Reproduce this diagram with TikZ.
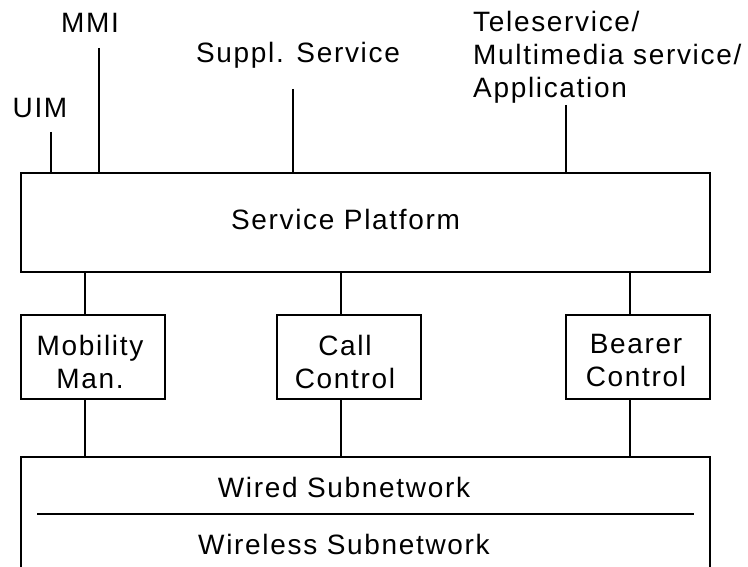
\documentclass[tikz,border=0pt]{standalone}
\usepackage{fontspec}
\setmainfont{Liberation Sans}[LetterSpace=6]
\begin{document}
\begin{tikzpicture}[x=1pt,y=-1pt,
  every node/.style={font=\fontsize{28}{33}\selectfont, inner sep=0pt},
  blk/.style={draw, line width=1.6pt},
  conn/.style={line width=1.6pt},
  lbl/.style={align=center}]
\useasboundingbox (0,0) rectangle (748,567);
\clip (0,0) rectangle (748,567);
% boxes
\node[blk, minimum width=689pt, minimum height=99pt] (sp) at (365.5,222.5) {};
\node[blk, minimum width=144pt, minimum height=84pt] (mm) at (93,357) {};
\node[blk, minimum width=144pt, minimum height=84pt] (cc) at (349,357) {};
\node[blk, minimum width=144pt, minimum height=84pt] (bc) at (638,357) {};
\node[blk, minimum width=689pt, minimum height=130pt] (net) at (365.5,522) {};
% box texts
\node[lbl] (spt) at (345.5,219) {Service Platform};
\node[lbl] (mmt) at (90,362) {Mobility\\Man.};
\node[lbl] (cct) at (345,362) {Call\\Control};
\node[lbl] (bct) at (636,361) {Bearer\\Control};
\node (wired) at (344,487) {Wired Subnetwork};
\node (wireless) at (344,544) {Wireless Subnetwork};
\coordinate (dl) at (37,514);
\coordinate (dr) at (694,514);
\draw[conn] (dl) -- (dr);
% top labels
\node[lbl] (uim) at (40,108) {UIM};
\node[lbl] (mmi) at (90,23) {MMI};
\node[lbl] (sup) at (298,55) {Suppl. Service};
\node[align=left, anchor=west] (tele) at (473,57) {Teleservice/\\Multimedia service/\\Application};
\coordinate (tu) at (51,132);
\coordinate (tm) at (99,48);
\coordinate (ts) at (293,89);
\coordinate (tt) at (566,105);
\draw[conn] (tu) -- (tu |- sp.north);
\draw[conn] (tm) -- (tm |- sp.north);
\draw[conn] (ts) -- (ts |- sp.north);
\draw[conn] (tt) -- (tt |- sp.north);
% connectors
\foreach \n in {mm,cc,bc}{
  \draw[conn] ([xshift=-8pt]\n.north) -- ([xshift=-8pt]\n.north |- sp.south);
  \draw[conn] ([xshift=-8pt]\n.south) -- ([xshift=-8pt]\n.south |- net.north);
}
\end{tikzpicture}
\end{document}
